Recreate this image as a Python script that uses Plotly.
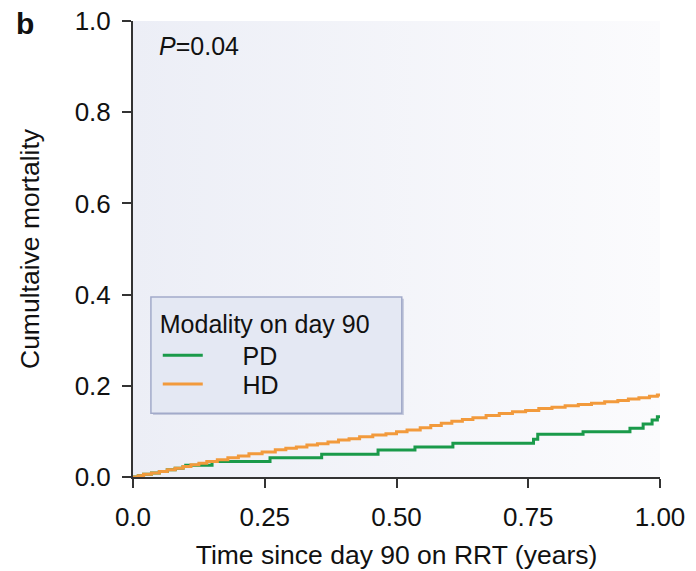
import plotly.graph_objects as go

# Data (cumulative mortality, step curves)
hd_time = [0.00, 0.01, 0.02, 0.035, 0.05, 0.065, 0.08, 0.095, 0.11, 0.125, 0.14, 0.16, 0.18,
           0.20, 0.22, 0.245, 0.27, 0.29, 0.31, 0.33, 0.35, 0.37, 0.39, 0.41, 0.43, 0.455,
           0.48, 0.50, 0.52, 0.545, 0.565, 0.585, 0.605, 0.625, 0.645, 0.67, 0.695, 0.72,
           0.745, 0.77, 0.795, 0.82, 0.845, 0.87, 0.895, 0.92, 0.94, 0.96, 0.98, 0.995, 1.0]
hd_mort = [0.000, 0.003, 0.006, 0.009, 0.012, 0.016, 0.019, 0.023, 0.027, 0.030, 0.034, 0.038,
           0.042, 0.046, 0.051, 0.055, 0.060, 0.063, 0.066, 0.070, 0.073, 0.077, 0.081, 0.084,
           0.088, 0.092, 0.095, 0.099, 0.103, 0.108, 0.113, 0.118, 0.122, 0.126, 0.130, 0.135,
           0.139, 0.143, 0.146, 0.150, 0.153, 0.156, 0.159, 0.162, 0.165, 0.168, 0.171, 0.174,
           0.177, 0.180, 0.180]

pd_time = [0.00, 0.01, 0.02, 0.035, 0.05, 0.065, 0.08, 0.095, 0.10, 0.15, 0.26, 0.358, 0.465,
           0.535, 0.607, 0.76, 0.768, 0.854, 0.943, 0.968, 0.985, 0.995, 1.0]
pd_mort = [0.000, 0.003, 0.006, 0.009, 0.012, 0.016, 0.019, 0.023, 0.026, 0.034, 0.042, 0.050,
           0.059, 0.066, 0.074, 0.083, 0.094, 0.099, 0.107, 0.116, 0.125, 0.132, 0.132]

x_ticks = [0.0, 0.25, 0.50, 0.75, 1.00]
x_tick_labels = ["0.0", "0.25", "0.50", "0.75", "1.00"]
y_ticks = [0.0, 0.2, 0.4, 0.6, 0.8, 1.0]
y_tick_labels = ["0.0", "0.2", "0.4", "0.6", "0.8", "1.0"]

FONT = "Liberation Sans, Arial, Helvetica, sans-serif"
GREEN = "#1a9a4a"
ORANGE = "#f29a3c"
TXT = "#111111"
NB = "\u00a0"

fig = go.Figure()

# gradient panel background
fig.add_trace(go.Scatter(
    x=[0, 1, 1, 0, 0], y=[0, 0, 1, 1, 0], mode="none", fill="toself",
    fillgradient=dict(type="horizontal", colorscale=[[0, "#eceef6"], [1, "#fbfbfd"]]),
    showlegend=False, hoverinfo="skip"))

fig.add_trace(go.Scatter(x=pd_time, y=pd_mort, mode="lines", name=NB * 5 + "PD",
                         legend="legend",
                         line=dict(color=GREEN, width=3, shape="hv")))
fig.add_trace(go.Scatter(x=hd_time, y=hd_mort, mode="lines", name=NB * 5 + "HD",
                         legend="legend2",
                         line=dict(color=ORANGE, width=3, shape="hv")))

axis_common = dict(showgrid=False, zeroline=False, showline=True, linecolor="#333333",
                   linewidth=2, ticks="outside", ticklen=9, tickwidth=2, tickcolor="#333333",
                   automargin=False,
                   tickfont=dict(family=FONT, size=26, color=TXT))

fig.update_xaxes(range=[0, 1], tickvals=x_ticks, ticktext=x_tick_labels,
                 ticklabelstandoff=7,
                 title=dict(text="Time since day 90 on RRT (years)",
                            font=dict(family=FONT, size=26.5, color=TXT), standoff=14),
                 **axis_common)
fig.update_yaxes(range=[0, 1], tickvals=y_ticks, ticktext=y_tick_labels,
                 ticklabelstandoff=6,
                 title=dict(text="Cumultaive mortality",
                            font=dict(family=FONT, size=26.5, color=TXT), standoff=27),
                 **axis_common)

legend_common = dict(
    font=dict(family=FONT, size=25, color=TXT),
    xanchor="left", yanchor="top",
    bgcolor="rgba(0,0,0,0)", borderwidth=0, itemwidth=40,
)

fig.update_layout(
    width=696, height=571,
    margin=dict(l=133, r=36, t=21, b=94, autoexpand=False),
    paper_bgcolor="white", plot_bgcolor="white",
    font=dict(family=FONT, color=TXT),
    legend=dict(
        title=dict(text="Modality on day 90", font=dict(family=FONT, size=25, color=TXT)),
        x=0.047, y=0.388, **legend_common),
    legend2=dict(x=0.047, y=0.254, **legend_common),
    shapes=[
        # legend box shadow and box
        dict(type="rect", xref="paper", yref="paper", x0=0.038, x1=0.514, y0=0.136, y1=0.391,
             fillcolor="#c3c8dc", line=dict(width=0), layer="above"),
        dict(type="rect", xref="paper", yref="paper", x0=0.034, x1=0.510, y0=0.140, y1=0.395,
             fillcolor="#e4e8f3", line=dict(color="#a2aaca", width=1.5), layer="above"),
    ],
    annotations=[
        dict(text="<b>b</b>", x=-0.225, y=1.034, xref="paper", yref="paper", showarrow=False,
             xanchor="left", yanchor="top",
             font=dict(family=FONT, size=30, color=TXT)),
        dict(text="<i>P</i>=0.04", x=0.045, y=0.945, xref="paper", yref="paper",
             xanchor="left", yanchor="middle", showarrow=False,
             font=dict(family=FONT, size=25, color=TXT)),
    ],
)

fig.write_html("out.html")
